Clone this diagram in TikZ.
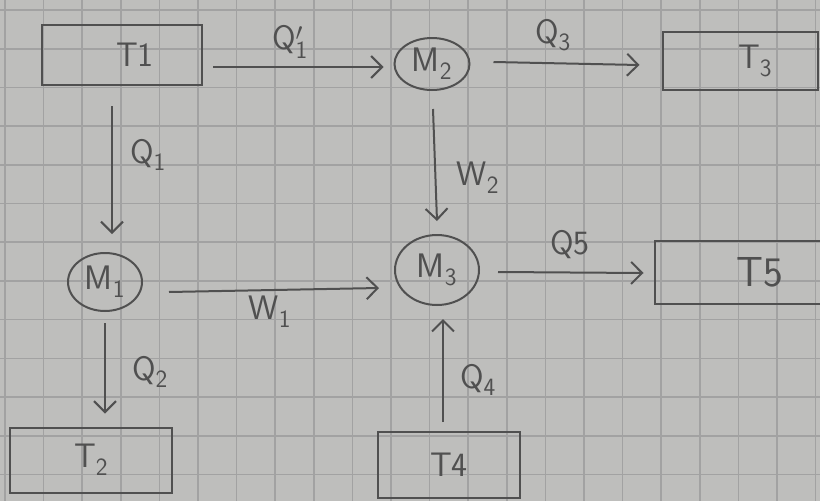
\documentclass[tikz,border=0pt]{standalone}
\usetikzlibrary{arrows.meta,shapes.geometric}
\definecolor{paper}{RGB}{190,190,188}
\definecolor{gridc}{RGB}{162,162,162}
\definecolor{pencil}{RGB}{80,80,80}
\begin{document}
\begin{tikzpicture}[x=1pt,y=-1pt,
  every node/.style={text=pencil,font=\sffamily\fontsize{34}{40}\selectfont},
  tbox/.style={draw=pencil,line width=2pt,rectangle,inner sep=0pt},
  mcirc/.style={draw=pencil,line width=2pt,ellipse,inner sep=0pt},
  flow/.style={draw=pencil,line width=2pt,-{Straight Barb[length=11pt,width=22pt,line width=2pt]}},
  lab/.style={inner sep=0pt}]
\clip (0,0) rectangle (820,501);
\fill[paper] (0,0) rectangle (820,501);
\foreach \i in {0,...,21} \draw[gridc,line width=1.6pt] ({5+38.6*\i},0) -- ++(0,501);
\foreach \j in {0,...,12} \draw[gridc,line width=1.6pt] (0,{10+38.7*\j}) -- ++(820,0);

% reservoirs
\node[tbox,minimum width=160pt,minimum height=60pt] (T1) at (122,55) {\hspace*{26pt}T1};
\node[tbox,minimum width=155pt,minimum height=58pt] (T3) at (740,61) {\hspace*{30pt}T$_{\mathsf{3}}$};
\node[tbox,minimum width=175pt,minimum height=63pt,font=\sffamily\fontsize{42}{48}\selectfont] (T5) at (742,272) {\hspace*{36pt}T5};
\node[tbox,minimum width=162pt,minimum height=65pt] (T2) at (91,460) {T$_{\mathsf{2}}$};
\node[tbox,minimum width=142pt,minimum height=66pt] (T4) at (449,465) {T4};

% machines
\node[mcirc,minimum width=74pt,minimum height=58pt] (M1) at (105,282) {M$_{\mathsf{1}}$};
\node[mcirc,minimum width=75pt,minimum height=52pt] (M2) at (432,64) {M$_{\mathsf{2}}$};
\node[mcirc,minimum width=84pt,minimum height=70pt] (M3) at (437,270) {M$_{\mathsf{3}}$};

% flows
\draw[flow] ([shift={(10,12)}]T1.east) -- ([shift={(-10,3)}]M2.west);
\draw[flow] ([shift={(23,-2)}]M2.east) -- ([shift={(-22,4)}]T3.west);
\draw[flow] ([shift={(-10,20)}]T1.south) -- ([shift={(7,-18)}]M1.north);
\draw[flow] ([shift={(1,18)}]M2.south) -- ([shift={(0,-13)}]M3.north);
\draw[flow] ([shift={(26,10)}]M1.east) -- ([shift={(-15,18)}]M3.west);
\draw[flow] ([shift={(18,2)}]M3.east) -- ([shift={(-10,1)}]T5.west);
\draw[flow] ([shift={(0,11)}]M1.south) -- ([shift={(14,-13)}]T2.north);
\draw[flow] ([shift={(-6,-9)}]T4.north) -- ([shift={(6,13)}]M3.south);

% labels
\node[lab] (lq1p) at (290,42) {Q$'_{\mathsf{1}}$};
\node[lab] (lq3) at (553,35) {Q$_{\mathsf{3}}$};
\node[lab] (lq1) at (148,155) {Q$_{\mathsf{1}}$};
\node[lab] (lw2) at (478,178) {W$_{\mathsf{2}}$};
\node[lab] (lw1) at (270,312) {W$_{\mathsf{1}}$};
\node[lab] (lq5) at (570,245) {Q5};
\node[lab] (lq2) at (150,372) {Q$_{\mathsf{2}}$};
\node[lab] (lq4) at (478,380) {Q$_{\mathsf{4}}$};
\end{tikzpicture}
\end{document}
